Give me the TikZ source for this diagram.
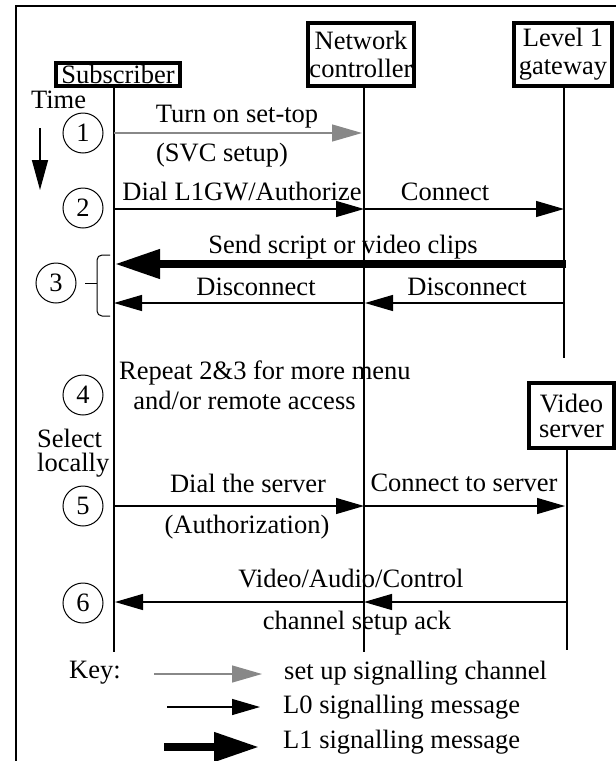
\documentclass[tikz,border=0pt]{standalone}
\usepackage{fontspec}
\setmainfont{Liberation Serif}
\usetikzlibrary{arrows.meta}
\definecolor{sgray}{RGB}{136,136,136}
\begin{document}
\begin{tikzpicture}[x=1pt,y=-1pt,
  every node/.style={font=\fontsize{26.5}{28}\selectfont, inner sep=0pt},
  actor/.style={draw, line width=4pt, align=center, inner sep=1pt},
  lifeline/.style={line width=1.2pt},
  num/.style={draw, circle, line width=1pt, minimum size=40pt},
  setupmsg/.style={draw=sgray, line width=1.3pt, -{Triangle[length=30pt,width=17pt]}, sgray},
  lzero/.style={line width=1.3pt, -{Triangle[length=28pt,width=16pt]}},
  lone/.style={line width=7.5pt, -{Triangle[length=45pt,width=28pt]}},
]
\useasboundingbox (0,0) rectangle (616,761);
% frame
\draw[line width=1.2pt] (16,761) -- (16,6) -- (616,6);

% actors
\node[actor, minimum width=124pt, minimum height=23pt] (sub) at (118,74.5) {Subscriber};
\node[actor, minimum width=106pt, minimum height=63pt] (nc) at (361,54.5) {Network\\controller};
\node[actor, minimum width=98pt, minimum height=63pt] (gw) at (563,54.5) {Level 1\\gateway};
\node[actor, minimum width=85pt, minimum height=65pt, font=\fontsize{26.5}{25}\selectfont] (vs) at (571.5,415.5) {Video\\server};

% lifeline ends
\coordinate (subend) at (114,652);
\coordinate (ncend) at (364,652);
\coordinate (gwend) at (564,358);
\coordinate (vsend) at (567,650);
\draw[lifeline] (subend |- sub.south) -- (subend);
\draw[lifeline] (ncend |- nc.south) -- (ncend);
\draw[lifeline] (gwend |- gw.south) -- (gwend);
\draw[lifeline] (vsend |- vs.south) -- (vsend);

% time
\node (time) at (58.5,100) {Time};
\coordinate (ta) at (40,128);
\coordinate (tb) at (40,190);
\draw[line width=1.5pt, -{Triangle[length=30pt,width=16pt]}] (ta) -- (tb);

% step numbers
\node[num] (c1) at (83,133) {1};
\node[num] (c2) at (83,208) {2};
\node[num] (c3) at (56,283) {3};
\node[num] (c4) at (83,395) {4};
\node[num] (c5) at (83,506) {5};
\node[num] (c6) at (83,603) {6};

% brace for step 3
\coordinate (bt) at (110,255);
\coordinate (bb) at (97,316);
\coordinate (be) at (110,316);
\coordinate (bm) at (97,283);
\coordinate (bk) at (85,283);
\draw[line width=1pt, rounded corners=5pt] (bt) -| (bb) -- (be);
\draw[line width=1pt] (bk) -- (bm);

% step 1
\coordinate (s1) at (114,133);
\coordinate (n1) at (362,133);
\draw[setupmsg] (s1) -- (n1);
\node at (237,117) {Turn on set-top};
\node at (222,155) {(SVC setup)};

% step 2
\coordinate (s2) at (114,209);
\coordinate (n2) at (364,209);
\coordinate (g2) at (564,209);
\draw[lzero] (s2) -- (n2);
\draw[lzero] (n2) -- (g2);
\node at (242,192) {Dial L1GW/Authorize};
\node at (445,192) {Connect};

% step 3
\coordinate (g3) at (566,264);
\coordinate (s3) at (115,264);
\draw[lone] (g3) -- (s3);
\node at (343,247) {Send script or video clips};
\coordinate (g3b) at (564,303);
\coordinate (n3b) at (365,303);
\coordinate (n3c) at (363,303);
\coordinate (s3b) at (114,303);
\draw[lzero] (g3b) -- (n3b);
\draw[lzero] (n3c) -- (s3b);
\node at (256,287) {Disconnect};
\node at (467,287) {Disconnect};

% step 4
\node[anchor=west] at (119,373) {Repeat 2\&3 for more menu};
\node at (244.5,400) {and/or remote access};
\node[anchor=west, align=left, font=\fontsize{26.5}{24}\selectfont] (sel) at (37,453) {Select\\locally};

% step 5
\coordinate (s5) at (114,506);
\coordinate (n5) at (364,506);
\coordinate (v5) at (565,506);
\draw[lzero] (s5) -- (n5);
\draw[lzero] (n5) -- (v5);
\node at (248,483) {Dial the server};
\node at (464,483) {Connect to server};
\node at (247,527) {(Authorization)};

% step 6
\coordinate (v6) at (567,602);
\coordinate (n6) at (364,602);
\coordinate (n6b) at (363,602);
\coordinate (s6) at (115,602);
\draw[lzero] (v6) -- (n6);
\draw[lzero] (n6b) -- (s6);
\node at (351,578) {Video/Audio/Control};
\node at (357,623) {channel setup ack};

% key
\node (key) at (95,673) {Key:};
\coordinate (k1a) at (154,674);
\coordinate (k1b) at (262,674);
\draw[setupmsg] (k1a) -- (k1b);
\node[anchor=west] (kt1) at (284,673) {set up signalling channel};
\coordinate (k2a) at (167,707);
\coordinate (k2b) at (260,707);
\draw[lzero] (k2a) -- (k2b);
\node[anchor=west] (kt2) at (283,707) {L0 signalling message};
\coordinate (k3a) at (164,747);
\coordinate (k3b) at (259,747);
\draw[lone] (k3a) -- (k3b);
\node[anchor=west] (kt3) at (283,742) {L1 signalling message};
\end{tikzpicture}
\end{document}
